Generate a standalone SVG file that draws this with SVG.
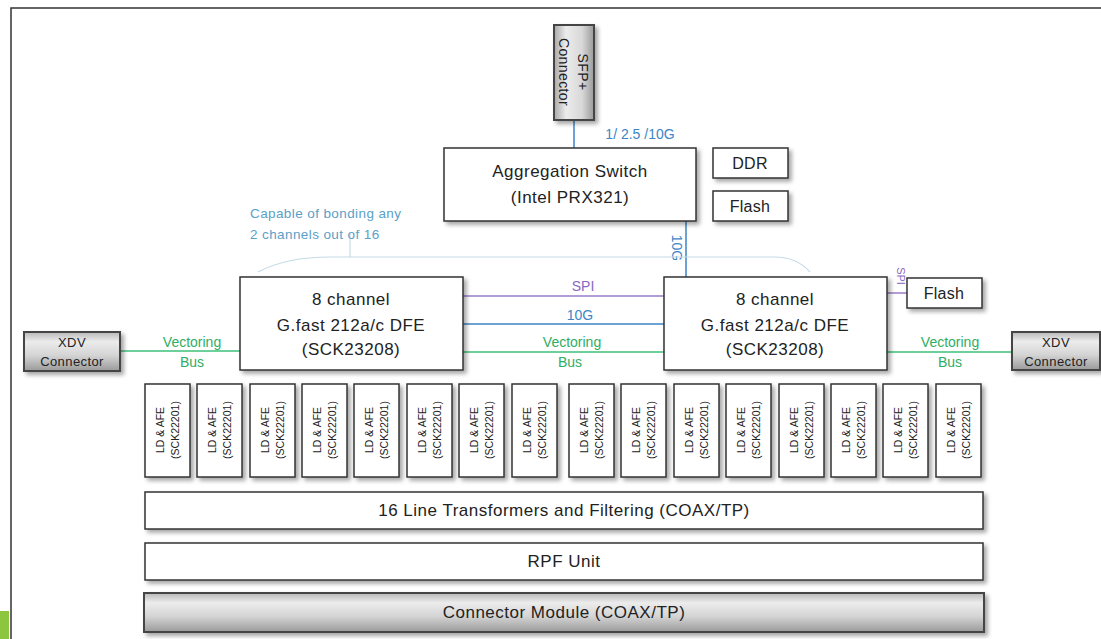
<svg xmlns="http://www.w3.org/2000/svg" width="1101" height="639" viewBox="0 0 1101 639">
<defs>
<filter id="sh" x="-10%" y="-10%" width="130%" height="140%">
<feDropShadow dx="3" dy="3" stdDeviation="2" flood-color="#000" flood-opacity="0.35"/>
</filter>
<linearGradient id="gV" x1="0" y1="0" x2="0" y2="1">
<stop offset="0" stop-color="#b8b8b8"/>
<stop offset="0.25" stop-color="#ececec"/>
<stop offset="0.6" stop-color="#d4d4d4"/>
<stop offset="1" stop-color="#9a9a9a"/>
</linearGradient>
<linearGradient id="gH" x1="0" y1="0" x2="1" y2="0">
<stop offset="0" stop-color="#a8a8a8"/>
<stop offset="0.3" stop-color="#ececec"/>
<stop offset="0.7" stop-color="#d8d8d8"/>
<stop offset="1" stop-color="#9a9a9a"/>
</linearGradient>
<style>
.box{fill:#fff;stroke:#333;stroke-width:1.5;filter:url(#sh)}
.conV{fill:url(#gV);stroke:#444;stroke-width:2;filter:url(#sh)}
.conH{fill:url(#gH);stroke:#444;stroke-width:2;filter:url(#sh)}
text{font-family:"Liberation Sans","DejaVu Sans",sans-serif;fill:#222}
.t16{font-size:17px;letter-spacing:0.5px;text-anchor:middle}
.t15{font-size:16px;letter-spacing:0.3px;text-anchor:middle}
.t12{font-size:13px;letter-spacing:0.4px;text-anchor:middle}
.ld{font-size:10.5px;text-anchor:middle}
.lb{font-size:14px;text-anchor:middle}
.blue{stroke:#3d85c6;stroke-width:1.5;fill:none}
.purple{stroke:#9a7cc8;stroke-width:1.5;fill:none}
.green{stroke:#3cc07a;stroke-width:1.5;fill:none}
.tb{fill:#3d85c6}
.tp{fill:#8a68c0}
.tg{fill:#2fae63}
.tl{fill:#5aa0c8;font-size:13.5px;letter-spacing:0.4px}
</style>
</defs>
<rect width="1101" height="639" fill="#fff"/>
<path d="M11,639 L11,8 L1101,8" fill="none" stroke="#333" stroke-width="1.5"/>
<rect x="0" y="611" width="9" height="28" fill="#8cc63f"/>

<g id="connectors">
<path class="blue" d="M574,120 L574,148"/>
<text class="lb tb" x="640" y="139">1/ 2.5 /10G</text>
<path class="blue" d="M686,221 L686,277"/>
<text class="lb tb" transform="translate(672,248) rotate(90)">10G</text>
<path d="M350,233 L350,257 M258,272 C275,263 300,257 330,257 L775,257 C790,257 802,263 810,272" fill="none" stroke="#c5dbe8" stroke-width="1.2"/>
<text class="tl" x="250" y="218">Capable of bonding any</text>
<text class="tl" x="250" y="239">2 channels out of 16</text>
<path class="purple" d="M463,296 L664,296"/>
<text class="lb tp" x="583" y="291">SPI</text>
<path class="blue" d="M463,324 L664,324"/>
<text class="lb tb" x="580" y="320">10G</text>
<path class="green" d="M463,352 L664,352"/>
<text class="lb tg" x="572" y="347">Vectoring</text>
<text class="lb tg" x="570" y="367">Bus</text>
<path class="green" d="M120,351 L240,351"/>
<text class="lb tg" x="192" y="347">Vectoring</text>
<text class="lb tg" x="192" y="367">Bus</text>
<path class="green" d="M887,352 L1012,352"/>
<text class="lb tg" x="950" y="347">Vectoring</text>
<text class="lb tg" x="950" y="367">Bus</text>
<path class="purple" d="M887,293 L907,293"/>
<text class="tp" style="font-size:11px" text-anchor="middle" transform="translate(897,276) rotate(90)">SPI</text>
</g>

<g id="sfp">
<rect class="conH" x="554" y="25" width="40" height="95"/>
<text class="lb" style="letter-spacing:0.4px" transform="translate(574,72) rotate(90)"><tspan x="0" y="-4">SFP+</tspan><tspan x="0" y="15">Connector</tspan></text>
</g>

<g id="agg">
<rect class="box" x="444" y="148" width="252" height="73"/>
<text class="t16" x="570" y="177">Aggregation Switch</text>
<text class="t16" x="570" y="203">(Intel PRX321)</text>
</g>
<g id="ddr">
<rect class="box" x="713" y="148" width="75" height="30"/>
<text class="t15" x="750" y="169">DDR</text>
</g>
<g id="flash1">
<rect class="box" x="713" y="191" width="75" height="30"/>
<text class="t15" x="750" y="212">Flash</text>
</g>
<g id="flash2">
<rect class="box" x="907" y="278" width="75" height="30"/>
<text class="t15" x="944" y="299">Flash</text>
</g>

<g id="dfe1">
<rect class="box" x="240" y="277" width="223" height="93"/>
<text class="t16" x="351" y="305">8 channel</text>
<text class="t16" x="351" y="331">G.fast 212a/c DFE</text>
<text class="t16" x="351" y="355">(SCK23208)</text>
</g>
<g id="dfe2">
<rect class="box" x="664" y="277" width="223" height="93"/>
<text class="t16" x="775" y="305">8 channel</text>
<text class="t16" x="775" y="331">G.fast 212a/c DFE</text>
<text class="t16" x="775" y="355">(SCK23208)</text>
</g>

<g id="xdv1">
<rect class="conV" x="24" y="332" width="96" height="39"/>
<text class="t12" x="72" y="347">XDV</text>
<text class="t12" x="72" y="366">Connector</text>
</g>
<g id="xdv2">
<rect class="conV" x="1012" y="332" width="88" height="38"/>
<text class="t12" x="1056" y="347">XDV</text>
<text class="t12" x="1056" y="366">Connector</text>
</g>

<g id="ld1"><rect class="box" x="145" y="384" width="45" height="93"/><text class="ld" transform="translate(167.5,430) rotate(-90)"><tspan x="0" y="-4">LD &amp; AFE</tspan><tspan x="0" y="11">(SCK22201)</tspan></text></g>
<g id="ld2"><rect class="box" x="197" y="384" width="45" height="93"/><text class="ld" transform="translate(219.5,430) rotate(-90)"><tspan x="0" y="-4">LD &amp; AFE</tspan><tspan x="0" y="11">(SCK22201)</tspan></text></g>
<g id="ld3"><rect class="box" x="250" y="384" width="45" height="93"/><text class="ld" transform="translate(272.5,430) rotate(-90)"><tspan x="0" y="-4">LD &amp; AFE</tspan><tspan x="0" y="11">(SCK22201)</tspan></text></g>
<g id="ld4"><rect class="box" x="302" y="384" width="45" height="93"/><text class="ld" transform="translate(324.5,430) rotate(-90)"><tspan x="0" y="-4">LD &amp; AFE</tspan><tspan x="0" y="11">(SCK22201)</tspan></text></g>
<g id="ld5"><rect class="box" x="354" y="384" width="45" height="93"/><text class="ld" transform="translate(376.5,430) rotate(-90)"><tspan x="0" y="-4">LD &amp; AFE</tspan><tspan x="0" y="11">(SCK22201)</tspan></text></g>
<g id="ld6"><rect class="box" x="407" y="384" width="45" height="93"/><text class="ld" transform="translate(429.5,430) rotate(-90)"><tspan x="0" y="-4">LD &amp; AFE</tspan><tspan x="0" y="11">(SCK22201)</tspan></text></g>
<g id="ld7"><rect class="box" x="459" y="384" width="45" height="93"/><text class="ld" transform="translate(481.5,430) rotate(-90)"><tspan x="0" y="-4">LD &amp; AFE</tspan><tspan x="0" y="11">(SCK22201)</tspan></text></g>
<g id="ld8"><rect class="box" x="512" y="384" width="45" height="93"/><text class="ld" transform="translate(534.5,430) rotate(-90)"><tspan x="0" y="-4">LD &amp; AFE</tspan><tspan x="0" y="11">(SCK22201)</tspan></text></g>
<g id="ld9"><rect class="box" x="569" y="384" width="45" height="93"/><text class="ld" transform="translate(591.5,430) rotate(-90)"><tspan x="0" y="-4">LD &amp; AFE</tspan><tspan x="0" y="11">(SCK22201)</tspan></text></g>
<g id="ld10"><rect class="box" x="621" y="384" width="45" height="93"/><text class="ld" transform="translate(643.5,430) rotate(-90)"><tspan x="0" y="-4">LD &amp; AFE</tspan><tspan x="0" y="11">(SCK22201)</tspan></text></g>
<g id="ld11"><rect class="box" x="674" y="384" width="45" height="93"/><text class="ld" transform="translate(696.5,430) rotate(-90)"><tspan x="0" y="-4">LD &amp; AFE</tspan><tspan x="0" y="11">(SCK22201)</tspan></text></g>
<g id="ld12"><rect class="box" x="726" y="384" width="45" height="93"/><text class="ld" transform="translate(748.5,430) rotate(-90)"><tspan x="0" y="-4">LD &amp; AFE</tspan><tspan x="0" y="11">(SCK22201)</tspan></text></g>
<g id="ld13"><rect class="box" x="779" y="384" width="45" height="93"/><text class="ld" transform="translate(801.5,430) rotate(-90)"><tspan x="0" y="-4">LD &amp; AFE</tspan><tspan x="0" y="11">(SCK22201)</tspan></text></g>
<g id="ld14"><rect class="box" x="831" y="384" width="45" height="93"/><text class="ld" transform="translate(853.5,430) rotate(-90)"><tspan x="0" y="-4">LD &amp; AFE</tspan><tspan x="0" y="11">(SCK22201)</tspan></text></g>
<g id="ld15"><rect class="box" x="883" y="384" width="45" height="93"/><text class="ld" transform="translate(905.5,430) rotate(-90)"><tspan x="0" y="-4">LD &amp; AFE</tspan><tspan x="0" y="11">(SCK22201)</tspan></text></g>
<g id="ld16"><rect class="box" x="936" y="384" width="45" height="93"/><text class="ld" transform="translate(958.5,430) rotate(-90)"><tspan x="0" y="-4">LD &amp; AFE</tspan><tspan x="0" y="11">(SCK22201)</tspan></text></g>

<g id="transformers">
<rect class="box" x="145" y="492" width="838" height="37"/>
<text class="t16" x="564" y="516">16 Line Transformers and Filtering (COAX/TP)</text>
</g>
<g id="rpf">
<rect class="box" x="145" y="543" width="838" height="37"/>
<text class="t16" x="564" y="567">RPF Unit</text>
</g>
<g id="connmod">
<rect class="conV" x="144" y="593" width="840" height="39"/>
<text class="t16" x="564" y="618">Connector Module (COAX/TP)</text>
</g>
</svg>
